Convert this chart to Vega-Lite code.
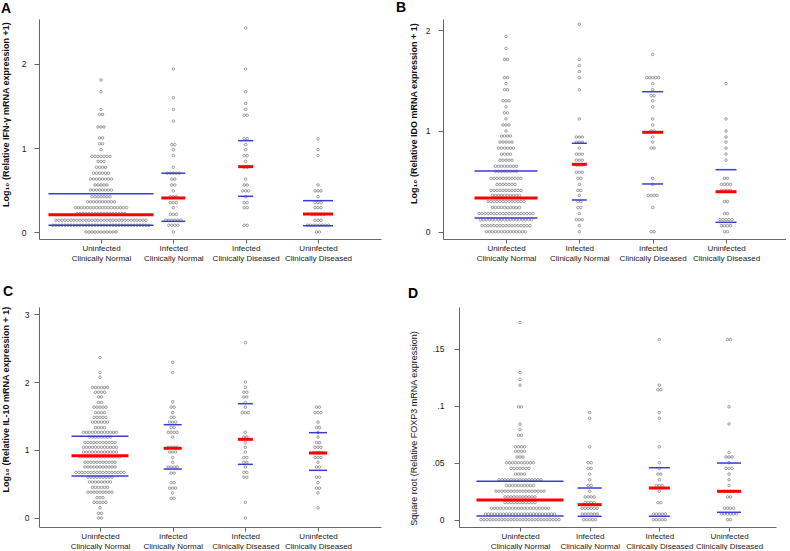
{
"$schema":"https://vega.github.io/schema/vega-lite/v6.json",
"background":"white",
"padding":{"left":0,"top":1,"right":0,"bottom":0},
"config":{"view":{"stroke":null},"font":"Liberation Sans",
"axis":{"grid":false,"domainColor":"#666","tickColor":"#666","labelColor":"#222","titleColor":"#111","labelFontSize":8.5,"titleFontSize":9,"titleFontWeight":"bold","labelFont":"Liberation Sans","titleFont":"Liberation Sans"},
"axisX":{"tickSize":4,"labelPadding":1,"labelLineHeight":10,"labelFontSize":8,"labelOverlap":false,"labelFlush":false,"title":null,"labelExpr":"datum.value == 1 ? ['Uninfected','Clinically Normal'] : datum.value == 2 ? ['Infected','Clinically Normal'] : datum.value == 3 ? ['Infected','Clinically Diseased'] : ['Uninfected','Clinically Diseased']"},
"axisY":{"tickSize":5,"labelPadding":8}},
"datasets":{
"A":[
{"g":1,"v":1.81},{"g":1,"v":1.67},{"g":1,"v":1.46},{"g":1,"v":1.4},{"g":1,"v":1.4},{"g":1,"v":1.25},{"g":1,"v":1.25},{"g":1,"v":1.25},{"g":1,"v":1.12},{"g":1,"v":1.12},{"g":1,"v":1.05},{"g":1,"v":1.05},{"g":1,"v":0.98},
{"g":1,"v":0.9},{"g":1,"v":0.9},{"g":1,"v":0.9},{"g":1,"v":0.9},{"g":1,"v":0.9},{"g":1,"v":0.9},{"g":1,"v":0.9},
{"g":1,"v":0.84},{"g":1,"v":0.84},{"g":1,"v":0.84},
{"g":1,"v":0.77},{"g":1,"v":0.77},{"g":1,"v":0.77},{"g":1,"v":0.77},
{"g":1,"v":0.7},{"g":1,"v":0.7},{"g":1,"v":0.7},{"g":1,"v":0.7},{"g":1,"v":0.7},{"g":1,"v":0.7},
{"g":1,"v":0.63},{"g":1,"v":0.63},{"g":1,"v":0.63},{"g":1,"v":0.63},{"g":1,"v":0.63},{"g":1,"v":0.63},{"g":1,"v":0.63},{"g":1,"v":0.63},
{"g":1,"v":0.56},{"g":1,"v":0.56},{"g":1,"v":0.56},{"g":1,"v":0.56},{"g":1,"v":0.56},
{"g":1,"v":0.5},{"g":1,"v":0.5},{"g":1,"v":0.5},{"g":1,"v":0.5},{"g":1,"v":0.5},{"g":1,"v":0.5},{"g":1,"v":0.5},{"g":1,"v":0.5},
{"g":1,"v":0.42},{"g":1,"v":0.42},{"g":1,"v":0.42},{"g":1,"v":0.42},{"g":1,"v":0.42},{"g":1,"v":0.42},{"g":1,"v":0.42},
{"g":1,"v":0.36},{"g":1,"v":0.36},{"g":1,"v":0.36},{"g":1,"v":0.36},{"g":1,"v":0.36},{"g":1,"v":0.36},{"g":1,"v":0.36},{"g":1,"v":0.36},{"g":1,"v":0.36},{"g":1,"v":0.36},
{"g":1,"v":0.29},{"g":1,"v":0.29},{"g":1,"v":0.29},{"g":1,"v":0.29},{"g":1,"v":0.29},{"g":1,"v":0.29},{"g":1,"v":0.29},{"g":1,"v":0.29},{"g":1,"v":0.29},{"g":1,"v":0.29},{"g":1,"v":0.29},{"g":1,"v":0.29},{"g":1,"v":0.29},{"g":1,"v":0.29},{"g":1,"v":0.29},{"g":1,"v":0.29},{"g":1,"v":0.29},{"g":1,"v":0.29},
{"g":1,"v":0.22},{"g":1,"v":0.22},{"g":1,"v":0.22},{"g":1,"v":0.22},{"g":1,"v":0.22},{"g":1,"v":0.22},{"g":1,"v":0.22},{"g":1,"v":0.22},{"g":1,"v":0.22},{"g":1,"v":0.22},{"g":1,"v":0.22},{"g":1,"v":0.22},{"g":1,"v":0.22},{"g":1,"v":0.22},{"g":1,"v":0.22},{"g":1,"v":0.22},{"g":1,"v":0.22},
{"g":1,"v":0.14},{"g":1,"v":0.14},{"g":1,"v":0.14},{"g":1,"v":0.14},{"g":1,"v":0.14},{"g":1,"v":0.14},{"g":1,"v":0.14},{"g":1,"v":0.14},{"g":1,"v":0.14},{"g":1,"v":0.14},{"g":1,"v":0.14},{"g":1,"v":0.14},{"g":1,"v":0.14},{"g":1,"v":0.14},{"g":1,"v":0.14},{"g":1,"v":0.14},{"g":1,"v":0.14},{"g":1,"v":0.14},{"g":1,"v":0.14},{"g":1,"v":0.14},{"g":1,"v":0.14},{"g":1,"v":0.14},{"g":1,"v":0.14},{"g":1,"v":0.14},{"g":1,"v":0.14},{"g":1,"v":0.14},{"g":1,"v":0.14},{"g":1,"v":0.14},{"g":1,"v":0.14},{"g":1,"v":0.14},{"g":1,"v":0.14},
{"g":1,"v":0.08},{"g":1,"v":0.08},{"g":1,"v":0.08},{"g":1,"v":0.08},{"g":1,"v":0.08},{"g":1,"v":0.08},{"g":1,"v":0.08},{"g":1,"v":0.08},{"g":1,"v":0.08},{"g":1,"v":0.08},{"g":1,"v":0.08},{"g":1,"v":0.08},{"g":1,"v":0.08},{"g":1,"v":0.08},{"g":1,"v":0.08},{"g":1,"v":0.08},{"g":1,"v":0.08},{"g":1,"v":0.08},{"g":1,"v":0.08},{"g":1,"v":0.08},{"g":1,"v":0.08},{"g":1,"v":0.08},{"g":1,"v":0.08},{"g":1,"v":0.08},{"g":1,"v":0.08},{"g":1,"v":0.08},{"g":1,"v":0.08},{"g":1,"v":0.08},{"g":1,"v":0.08},{"g":1,"v":0.08},{"g":1,"v":0.08},{"g":1,"v":0.08},{"g":1,"v":0.08},
{"g":1,"v":0},{"g":1,"v":0},{"g":1,"v":0},{"g":1,"v":0},{"g":1,"v":0},{"g":1,"v":0},{"g":1,"v":0},{"g":1,"v":0},{"g":1,"v":0},{"g":1,"v":0},{"g":1,"v":0},
{"g":2,"v":1.94},{"g":2,"v":1.6},{"g":2,"v":1.46},{"g":2,"v":1.32},{"g":2,"v":1.04},{"g":2,"v":1.04},{"g":2,"v":0.98},{"g":2,"v":0.91},{"g":2,"v":0.77},
{"g":2,"v":0.7},{"g":2,"v":0.7},{"g":2,"v":0.7},{"g":2,"v":0.7},{"g":2,"v":0.7},{"g":2,"v":0.63},{"g":2,"v":0.63},{"g":2,"v":0.56},{"g":2,"v":0.56},{"g":2,"v":0.49},
{"g":2,"v":0.42},{"g":2,"v":0.42},{"g":2,"v":0.42},{"g":2,"v":0.35},{"g":2,"v":0.35},{"g":2,"v":0.35},{"g":2,"v":0.29},{"g":2,"v":0.21},{"g":2,"v":0.21},{"g":2,"v":0.21},
{"g":2,"v":0.14},{"g":2,"v":0.14},{"g":2,"v":0.14},{"g":2,"v":0.14},{"g":2,"v":0.14},{"g":2,"v":0.14},{"g":2,"v":0.08},{"g":2,"v":0.08},{"g":2,"v":0.08},{"g":2,"v":0.08},{"g":2,"v":0},
{"g":3,"v":2.43},{"g":3,"v":1.94},{"g":3,"v":1.67},{"g":3,"v":1.53},{"g":3,"v":1.46},{"g":3,"v":1.39},{"g":3,"v":1.39},{"g":3,"v":1.11},{"g":3,"v":1.11},{"g":3,"v":1.04},{"g":3,"v":0.98},{"g":3,"v":0.91},{"g":3,"v":0.91},{"g":3,"v":0.84},{"g":3,"v":0.77},{"g":3,"v":0.77},{"g":3,"v":0.63},{"g":3,"v":0.56},{"g":3,"v":0.56},{"g":3,"v":0.49},{"g":3,"v":0.49},{"g":3,"v":0.49},{"g":3,"v":0.42},{"g":3,"v":0.35},{"g":3,"v":0.35},{"g":3,"v":0.29},{"g":3,"v":0.29},{"g":3,"v":0.08},{"g":3,"v":0.08},
{"g":4,"v":1.11},{"g":4,"v":0.98},{"g":4,"v":0.91},{"g":4,"v":0.56},{"g":4,"v":0.49},{"g":4,"v":0.49},{"g":4,"v":0.49},{"g":4,"v":0.42},{"g":4,"v":0.35},{"g":4,"v":0.35},{"g":4,"v":0.35},{"g":4,"v":0.29},{"g":4,"v":0.29},{"g":4,"v":0.29},
{"g":4,"v":0.21},{"g":4,"v":0.21},{"g":4,"v":0.21},{"g":4,"v":0.21},{"g":4,"v":0.21},{"g":4,"v":0.14},{"g":4,"v":0.14},{"g":4,"v":0.14},{"g":4,"v":0.08},{"g":4,"v":0.08},{"g":4,"v":0.08},{"g":4,"v":0.08},{"g":4,"v":0.08},{"g":4,"v":0.08},{"g":4,"v":0.08},{"g":4,"v":0.08},{"g":4,"v":0},{"g":4,"v":0},
{"g":1,"v":0.456,"s":"q"},{"g":1,"v":0.206,"s":"m"},{"g":1,"v":0.08,"s":"q"},
{"g":2,"v":0.7,"s":"q"},{"g":2,"v":0.405,"s":"m"},{"g":2,"v":0.127,"s":"q"},
{"g":3,"v":1.087,"s":"q"},{"g":3,"v":0.778,"s":"m"},{"g":3,"v":0.425,"s":"q"},
{"g":4,"v":0.373,"s":"q"},{"g":4,"v":0.214,"s":"m"},{"g":4,"v":0.075,"s":"q"}
],
"B":[
{"g":1,"v":1.94},{"g":1,"v":1.82},{"g":1,"v":1.71},{"g":1,"v":1.71},{"g":1,"v":1.53},{"g":1,"v":1.53},{"g":1,"v":1.47},{"g":1,"v":1.41},{"g":1,"v":1.41},{"g":1,"v":1.3},{"g":1,"v":1.3},{"g":1,"v":1.3},{"g":1,"v":1.24},{"g":1,"v":1.18},{"g":1,"v":1.18},{"g":1,"v":1.12},{"g":1,"v":1.06},{"g":1,"v":1.06},{"g":1,"v":1.06},{"g":1,"v":1.0},
{"g":1,"v":0.95},{"g":1,"v":0.95},{"g":1,"v":0.95},{"g":1,"v":0.95},
{"g":1,"v":0.89},{"g":1,"v":0.89},{"g":1,"v":0.89},{"g":1,"v":0.89},{"g":1,"v":0.89},
{"g":1,"v":0.83},{"g":1,"v":0.83},{"g":1,"v":0.83},{"g":1,"v":0.83},{"g":1,"v":0.83},{"g":1,"v":0.83},
{"g":1,"v":0.77},{"g":1,"v":0.77},{"g":1,"v":0.77},{"g":1,"v":0.77},
{"g":1,"v":0.71},{"g":1,"v":0.71},{"g":1,"v":0.71},{"g":1,"v":0.71},{"g":1,"v":0.71},
{"g":1,"v":0.65},{"g":1,"v":0.65},{"g":1,"v":0.65},{"g":1,"v":0.65},{"g":1,"v":0.65},{"g":1,"v":0.65},{"g":1,"v":0.65},{"g":1,"v":0.65},
{"g":1,"v":0.6},{"g":1,"v":0.6},{"g":1,"v":0.6},{"g":1,"v":0.6},{"g":1,"v":0.6},{"g":1,"v":0.6},{"g":1,"v":0.6},{"g":1,"v":0.6},
{"g":1,"v":0.53},{"g":1,"v":0.53},{"g":1,"v":0.53},{"g":1,"v":0.53},{"g":1,"v":0.53},{"g":1,"v":0.53},{"g":1,"v":0.53},{"g":1,"v":0.53},{"g":1,"v":0.53},{"g":1,"v":0.53},{"g":1,"v":0.53},
{"g":1,"v":0.47},{"g":1,"v":0.47},{"g":1,"v":0.47},{"g":1,"v":0.47},{"g":1,"v":0.47},{"g":1,"v":0.47},{"g":1,"v":0.47},
{"g":1,"v":0.41},{"g":1,"v":0.41},{"g":1,"v":0.41},{"g":1,"v":0.41},{"g":1,"v":0.41},{"g":1,"v":0.41},{"g":1,"v":0.41},{"g":1,"v":0.41},{"g":1,"v":0.41},{"g":1,"v":0.41},{"g":1,"v":0.41},
{"g":1,"v":0.36},{"g":1,"v":0.36},{"g":1,"v":0.36},{"g":1,"v":0.36},{"g":1,"v":0.36},{"g":1,"v":0.36},{"g":1,"v":0.36},{"g":1,"v":0.36},{"g":1,"v":0.36},{"g":1,"v":0.36},
{"g":1,"v":0.3},{"g":1,"v":0.3},{"g":1,"v":0.3},{"g":1,"v":0.3},{"g":1,"v":0.3},{"g":1,"v":0.3},{"g":1,"v":0.3},{"g":1,"v":0.3},{"g":1,"v":0.3},{"g":1,"v":0.3},{"g":1,"v":0.3},{"g":1,"v":0.3},{"g":1,"v":0.3},
{"g":1,"v":0.24},{"g":1,"v":0.24},{"g":1,"v":0.24},{"g":1,"v":0.24},{"g":1,"v":0.24},{"g":1,"v":0.24},{"g":1,"v":0.24},{"g":1,"v":0.24},{"g":1,"v":0.24},{"g":1,"v":0.24},
{"g":1,"v":0.18},{"g":1,"v":0.18},{"g":1,"v":0.18},{"g":1,"v":0.18},{"g":1,"v":0.18},{"g":1,"v":0.18},{"g":1,"v":0.18},{"g":1,"v":0.18},{"g":1,"v":0.18},{"g":1,"v":0.18},{"g":1,"v":0.18},{"g":1,"v":0.18},{"g":1,"v":0.18},{"g":1,"v":0.18},{"g":1,"v":0.18},{"g":1,"v":0.18},{"g":1,"v":0.18},{"g":1,"v":0.18},{"g":1,"v":0.18},
{"g":1,"v":0.12},{"g":1,"v":0.12},{"g":1,"v":0.12},{"g":1,"v":0.12},{"g":1,"v":0.12},{"g":1,"v":0.12},{"g":1,"v":0.12},{"g":1,"v":0.12},{"g":1,"v":0.12},{"g":1,"v":0.12},{"g":1,"v":0.12},{"g":1,"v":0.12},{"g":1,"v":0.12},{"g":1,"v":0.12},{"g":1,"v":0.12},{"g":1,"v":0.12},{"g":1,"v":0.12},{"g":1,"v":0.12},
{"g":1,"v":0.06},{"g":1,"v":0.06},{"g":1,"v":0.06},{"g":1,"v":0.06},{"g":1,"v":0.06},{"g":1,"v":0.06},{"g":1,"v":0.06},{"g":1,"v":0.06},{"g":1,"v":0.06},{"g":1,"v":0.06},{"g":1,"v":0.06},{"g":1,"v":0.06},{"g":1,"v":0.06},{"g":1,"v":0.06},{"g":1,"v":0.06},{"g":1,"v":0.06},{"g":1,"v":0.06},
{"g":1,"v":0},{"g":1,"v":0},{"g":1,"v":0},{"g":1,"v":0},{"g":1,"v":0},{"g":1,"v":0},{"g":1,"v":0},{"g":1,"v":0},{"g":1,"v":0},{"g":1,"v":0},{"g":1,"v":0},{"g":1,"v":0},{"g":1,"v":0},{"g":1,"v":0},
{"g":2,"v":2.06},{"g":2,"v":1.71},{"g":2,"v":1.65},{"g":2,"v":1.59},{"g":2,"v":1.53},{"g":2,"v":1.41},{"g":2,"v":1.12},{"g":2,"v":0.94},{"g":2,"v":0.94},{"g":2,"v":0.94},{"g":2,"v":0.89},{"g":2,"v":0.89},{"g":2,"v":0.89},{"g":2,"v":0.83},{"g":2,"v":0.77},{"g":2,"v":0.77},{"g":2,"v":0.77},{"g":2,"v":0.71},{"g":2,"v":0.71},{"g":2,"v":0.71},{"g":2,"v":0.66},{"g":2,"v":0.66},{"g":2,"v":0.66},{"g":2,"v":0.59},{"g":2,"v":0.59},{"g":2,"v":0.59},{"g":2,"v":0.53},{"g":2,"v":0.53},{"g":2,"v":0.47},{"g":2,"v":0.41},{"g":2,"v":0.41},{"g":2,"v":0.36},{"g":2,"v":0.3},{"g":2,"v":0.3},{"g":2,"v":0.24},{"g":2,"v":0.24},{"g":2,"v":0.18},{"g":2,"v":0.12},{"g":2,"v":0.12},{"g":2,"v":0.12},{"g":2,"v":0.06},{"g":2,"v":0},
{"g":3,"v":1.76},{"g":3,"v":1.53},{"g":3,"v":1.53},{"g":3,"v":1.53},{"g":3,"v":1.53},{"g":3,"v":1.53},{"g":3,"v":1.47},{"g":3,"v":1.41},{"g":3,"v":1.35},{"g":3,"v":1.35},{"g":3,"v":1.3},{"g":3,"v":1.24},{"g":3,"v":1.12},{"g":3,"v":1.06},{"g":3,"v":1.0},{"g":3,"v":1.0},{"g":3,"v":0.94},{"g":3,"v":0.89},{"g":3,"v":0.83},{"g":3,"v":0.83},{"g":3,"v":0.53},{"g":3,"v":0.47},{"g":3,"v":0.36},{"g":3,"v":0.36},{"g":3,"v":0.36},{"g":3,"v":0.36},{"g":3,"v":0.24},{"g":3,"v":0},{"g":3,"v":0},
{"g":4,"v":1.47},{"g":4,"v":1.12},{"g":4,"v":1.0},{"g":4,"v":0.94},{"g":4,"v":0.89},{"g":4,"v":0.83},{"g":4,"v":0.77},{"g":4,"v":0.71},{"g":4,"v":0.53},{"g":4,"v":0.53},{"g":4,"v":0.47},{"g":4,"v":0.47},{"g":4,"v":0.47},{"g":4,"v":0.47},{"g":4,"v":0.41},{"g":4,"v":0.41},{"g":4,"v":0.41},{"g":4,"v":0.41},{"g":4,"v":0.3},{"g":4,"v":0.3},{"g":4,"v":0.18},{"g":4,"v":0.18},{"g":4,"v":0.12},{"g":4,"v":0.12},{"g":4,"v":0.12},{"g":4,"v":0.12},{"g":4,"v":0.12},{"g":4,"v":0.06},{"g":4,"v":0.06},{"g":4,"v":0.06},{"g":4,"v":0.06},{"g":4,"v":0},{"g":4,"v":0},
{"g":1,"v":0.603,"s":"q"},{"g":1,"v":0.335,"s":"m"},{"g":1,"v":0.136,"s":"q"},
{"g":2,"v":0.878,"s":"q"},{"g":2,"v":0.669,"s":"m"},{"g":2,"v":0.315,"s":"q"},
{"g":3,"v":1.39,"s":"q"},{"g":3,"v":0.987,"s":"m"},{"g":3,"v":0.474,"s":"q"},
{"g":4,"v":0.616,"s":"q"},{"g":4,"v":0.397,"s":"m"},{"g":4,"v":0.093,"s":"q"}
],
"C":[
{"g":1,"v":2.36},{"g":1,"v":2.14},{"g":1,"v":2.07},
{"g":1,"v":1.92},{"g":1,"v":1.92},{"g":1,"v":1.92},{"g":1,"v":1.92},{"g":1,"v":1.92},{"g":1,"v":1.92},
{"g":1,"v":1.85},{"g":1,"v":1.85},{"g":1,"v":1.85},{"g":1,"v":1.85},
{"g":1,"v":1.78},{"g":1,"v":1.78},{"g":1,"v":1.7},{"g":1,"v":1.7},
{"g":1,"v":1.63},{"g":1,"v":1.63},{"g":1,"v":1.63},{"g":1,"v":1.63},{"g":1,"v":1.63},
{"g":1,"v":1.55},{"g":1,"v":1.55},{"g":1,"v":1.55},{"g":1,"v":1.55},
{"g":1,"v":1.48},{"g":1,"v":1.48},{"g":1,"v":1.48},{"g":1,"v":1.48},{"g":1,"v":1.48},
{"g":1,"v":1.41},{"g":1,"v":1.41},{"g":1,"v":1.41},{"g":1,"v":1.41},{"g":1,"v":1.41},{"g":1,"v":1.41},
{"g":1,"v":1.33},{"g":1,"v":1.33},{"g":1,"v":1.33},{"g":1,"v":1.33},
{"g":1,"v":1.26},{"g":1,"v":1.26},{"g":1,"v":1.26},{"g":1,"v":1.26},{"g":1,"v":1.26},{"g":1,"v":1.26},{"g":1,"v":1.26},{"g":1,"v":1.26},{"g":1,"v":1.26},{"g":1,"v":1.26},{"g":1,"v":1.26},{"g":1,"v":1.26},
{"g":1,"v":1.19},{"g":1,"v":1.19},{"g":1,"v":1.19},{"g":1,"v":1.19},{"g":1,"v":1.19},{"g":1,"v":1.19},{"g":1,"v":1.19},{"g":1,"v":1.19},
{"g":1,"v":1.11},{"g":1,"v":1.11},{"g":1,"v":1.11},{"g":1,"v":1.11},{"g":1,"v":1.11},{"g":1,"v":1.11},{"g":1,"v":1.11},{"g":1,"v":1.11},{"g":1,"v":1.11},{"g":1,"v":1.11},{"g":1,"v":1.11},
{"g":1,"v":1.04},{"g":1,"v":1.04},{"g":1,"v":1.04},{"g":1,"v":1.04},{"g":1,"v":1.04},{"g":1,"v":1.04},{"g":1,"v":1.04},{"g":1,"v":1.04},{"g":1,"v":1.04},{"g":1,"v":1.04},{"g":1,"v":1.04},{"g":1,"v":1.04},
{"g":1,"v":0.97},{"g":1,"v":0.97},{"g":1,"v":0.97},{"g":1,"v":0.97},{"g":1,"v":0.97},{"g":1,"v":0.97},{"g":1,"v":0.97},{"g":1,"v":0.97},{"g":1,"v":0.97},{"g":1,"v":0.97},{"g":1,"v":0.97},{"g":1,"v":0.97},
{"g":1,"v":0.9},{"g":1,"v":0.9},{"g":1,"v":0.9},{"g":1,"v":0.9},{"g":1,"v":0.9},{"g":1,"v":0.9},{"g":1,"v":0.9},{"g":1,"v":0.9},{"g":1,"v":0.9},{"g":1,"v":0.9},{"g":1,"v":0.9},{"g":1,"v":0.9},{"g":1,"v":0.9},{"g":1,"v":0.9},
{"g":1,"v":0.82},{"g":1,"v":0.82},{"g":1,"v":0.82},{"g":1,"v":0.82},{"g":1,"v":0.82},{"g":1,"v":0.82},{"g":1,"v":0.82},{"g":1,"v":0.82},{"g":1,"v":0.82},{"g":1,"v":0.82},{"g":1,"v":0.82},
{"g":1,"v":0.75},{"g":1,"v":0.75},{"g":1,"v":0.75},{"g":1,"v":0.75},{"g":1,"v":0.75},{"g":1,"v":0.75},{"g":1,"v":0.75},{"g":1,"v":0.75},{"g":1,"v":0.75},{"g":1,"v":0.75},{"g":1,"v":0.75},
{"g":1,"v":0.67},{"g":1,"v":0.67},{"g":1,"v":0.67},{"g":1,"v":0.67},{"g":1,"v":0.67},{"g":1,"v":0.67},{"g":1,"v":0.67},{"g":1,"v":0.67},{"g":1,"v":0.67},{"g":1,"v":0.67},{"g":1,"v":0.67},{"g":1,"v":0.67},{"g":1,"v":0.67},{"g":1,"v":0.67},{"g":1,"v":0.67},{"g":1,"v":0.67},{"g":1,"v":0.67},
{"g":1,"v":0.6},{"g":1,"v":0.6},{"g":1,"v":0.6},{"g":1,"v":0.6},{"g":1,"v":0.6},{"g":1,"v":0.6},{"g":1,"v":0.6},{"g":1,"v":0.6},{"g":1,"v":0.6},
{"g":1,"v":0.53},{"g":1,"v":0.53},{"g":1,"v":0.53},{"g":1,"v":0.53},{"g":1,"v":0.53},{"g":1,"v":0.53},{"g":1,"v":0.53},{"g":1,"v":0.53},
{"g":1,"v":0.45},{"g":1,"v":0.45},{"g":1,"v":0.45},{"g":1,"v":0.45},{"g":1,"v":0.45},{"g":1,"v":0.45},
{"g":1,"v":0.38},{"g":1,"v":0.38},{"g":1,"v":0.38},{"g":1,"v":0.38},{"g":1,"v":0.38},{"g":1,"v":0.38},{"g":1,"v":0.38},{"g":1,"v":0.38},{"g":1,"v":0.38},
{"g":1,"v":0.3},{"g":1,"v":0.3},{"g":1,"v":0.3},
{"g":1,"v":0.23},{"g":1,"v":0.23},{"g":1,"v":0.23},{"g":1,"v":0.23},{"g":1,"v":0.23},
{"g":1,"v":0.15},{"g":1,"v":0.07},{"g":1,"v":0.07},{"g":1,"v":0},{"g":1,"v":0},
{"g":2,"v":2.29},{"g":2,"v":2.14},{"g":2,"v":1.71},{"g":2,"v":1.63},{"g":2,"v":1.63},{"g":2,"v":1.55},{"g":2,"v":1.48},{"g":2,"v":1.48},{"g":2,"v":1.41},{"g":2,"v":1.41},{"g":2,"v":1.41},{"g":2,"v":1.33},{"g":2,"v":1.33},{"g":2,"v":1.26},{"g":2,"v":1.26},{"g":2,"v":1.26},{"g":2,"v":1.26},{"g":2,"v":1.19},{"g":2,"v":1.04},{"g":2,"v":1.04},{"g":2,"v":1.04},{"g":2,"v":1.04},{"g":2,"v":0.97},{"g":2,"v":0.97},{"g":2,"v":0.97},{"g":2,"v":0.89},{"g":2,"v":0.82},{"g":2,"v":0.75},{"g":2,"v":0.75},{"g":2,"v":0.75},{"g":2,"v":0.75},{"g":2,"v":0.66},{"g":2,"v":0.66},{"g":2,"v":0.52},{"g":2,"v":0.52},{"g":2,"v":0.44},{"g":2,"v":0.44},{"g":2,"v":0.44},{"g":2,"v":0.37},{"g":2,"v":0.29},{"g":2,"v":0.29},
{"g":3,"v":2.58},{"g":3,"v":2.0},{"g":3,"v":1.92},{"g":3,"v":1.85},{"g":3,"v":1.85},{"g":3,"v":1.78},{"g":3,"v":1.78},{"g":3,"v":1.7},{"g":3,"v":1.63},{"g":3,"v":1.55},{"g":3,"v":1.55},{"g":3,"v":1.55},{"g":3,"v":1.26},{"g":3,"v":1.19},{"g":3,"v":1.19},{"g":3,"v":1.11},{"g":3,"v":1.04},{"g":3,"v":0.97},{"g":3,"v":0.89},{"g":3,"v":0.89},{"g":3,"v":0.82},{"g":3,"v":0.82},{"g":3,"v":0.75},{"g":3,"v":0.67},{"g":3,"v":0.67},{"g":3,"v":0.6},{"g":3,"v":0.6},{"g":3,"v":0.23},{"g":3,"v":0},
{"g":4,"v":1.63},{"g":4,"v":1.63},{"g":4,"v":1.55},{"g":4,"v":1.55},{"g":4,"v":1.55},{"g":4,"v":1.41},{"g":4,"v":1.33},{"g":4,"v":1.33},{"g":4,"v":1.26},{"g":4,"v":1.19},{"g":4,"v":1.11},{"g":4,"v":1.11},{"g":4,"v":1.04},{"g":4,"v":1.04},{"g":4,"v":1.04},{"g":4,"v":0.96},{"g":4,"v":0.96},{"g":4,"v":0.96},{"g":4,"v":0.96},{"g":4,"v":0.89},{"g":4,"v":0.89},{"g":4,"v":0.89},{"g":4,"v":0.82},{"g":4,"v":0.75},{"g":4,"v":0.75},{"g":4,"v":0.6},{"g":4,"v":0.6},{"g":4,"v":0.52},{"g":4,"v":0.44},{"g":4,"v":0.44},{"g":4,"v":0.37},{"g":4,"v":0.15},
{"g":1,"v":1.201,"s":"q"},{"g":1,"v":0.917,"s":"m"},{"g":1,"v":0.618,"s":"q"},
{"g":2,"v":1.372,"s":"q"},{"g":2,"v":1.025,"s":"m"},{"g":2,"v":0.72,"s":"q"},
{"g":3,"v":1.681,"s":"q"},{"g":3,"v":1.157,"s":"m"},{"g":3,"v":0.789,"s":"q"},
{"g":4,"v":1.255,"s":"q"},{"g":4,"v":0.956,"s":"m"},{"g":4,"v":0.701,"s":"q"}
],
"D":[
{"g":1,"v":0.173},{"g":1,"v":0.129},{"g":1,"v":0.123},{"g":1,"v":0.118},{"g":1,"v":0.099},{"g":1,"v":0.099},{"g":1,"v":0.084},{"g":1,"v":0.079},{"g":1,"v":0.074},{"g":1,"v":0.074},
{"g":1,"v":0.064},{"g":1,"v":0.064},{"g":1,"v":0.064},{"g":1,"v":0.064},{"g":1,"v":0.06},{"g":1,"v":0.06},{"g":1,"v":0.06},{"g":1,"v":0.06},{"g":1,"v":0.055},{"g":1,"v":0.055},{"g":1,"v":0.055},
{"g":1,"v":0.05},{"g":1,"v":0.05},{"g":1,"v":0.05},{"g":1,"v":0.05},{"g":1,"v":0.05},{"g":1,"v":0.05},{"g":1,"v":0.05},{"g":1,"v":0.05},{"g":1,"v":0.05},{"g":1,"v":0.05},
{"g":1,"v":0.045},{"g":1,"v":0.045},{"g":1,"v":0.045},{"g":1,"v":0.045},{"g":1,"v":0.045},{"g":1,"v":0.045},{"g":1,"v":0.045},
{"g":1,"v":0.04},{"g":1,"v":0.04},{"g":1,"v":0.04},{"g":1,"v":0.04},
{"g":1,"v":0.035},{"g":1,"v":0.035},{"g":1,"v":0.035},{"g":1,"v":0.035},{"g":1,"v":0.035},{"g":1,"v":0.035},{"g":1,"v":0.035},{"g":1,"v":0.035},{"g":1,"v":0.035},{"g":1,"v":0.035},{"g":1,"v":0.035},{"g":1,"v":0.035},{"g":1,"v":0.035},{"g":1,"v":0.035},{"g":1,"v":0.035},
{"g":1,"v":0.03},{"g":1,"v":0.03},{"g":1,"v":0.03},{"g":1,"v":0.03},{"g":1,"v":0.03},{"g":1,"v":0.03},{"g":1,"v":0.03},{"g":1,"v":0.03},{"g":1,"v":0.03},{"g":1,"v":0.03},
{"g":1,"v":0.025},{"g":1,"v":0.025},{"g":1,"v":0.025},{"g":1,"v":0.025},{"g":1,"v":0.025},{"g":1,"v":0.025},{"g":1,"v":0.025},{"g":1,"v":0.025},{"g":1,"v":0.025},{"g":1,"v":0.025},{"g":1,"v":0.025},{"g":1,"v":0.025},{"g":1,"v":0.025},{"g":1,"v":0.025},{"g":1,"v":0.025},{"g":1,"v":0.025},{"g":1,"v":0.025},
{"g":1,"v":0.02},{"g":1,"v":0.02},{"g":1,"v":0.02},{"g":1,"v":0.02},{"g":1,"v":0.02},{"g":1,"v":0.02},{"g":1,"v":0.02},{"g":1,"v":0.02},{"g":1,"v":0.02},{"g":1,"v":0.02},{"g":1,"v":0.02},
{"g":1,"v":0.015},{"g":1,"v":0.015},{"g":1,"v":0.015},{"g":1,"v":0.015},{"g":1,"v":0.015},{"g":1,"v":0.015},{"g":1,"v":0.015},{"g":1,"v":0.015},{"g":1,"v":0.015},{"g":1,"v":0.015},{"g":1,"v":0.015},
{"g":1,"v":0.01},{"g":1,"v":0.01},{"g":1,"v":0.01},{"g":1,"v":0.01},{"g":1,"v":0.01},{"g":1,"v":0.01},{"g":1,"v":0.01},{"g":1,"v":0.01},{"g":1,"v":0.01},{"g":1,"v":0.01},{"g":1,"v":0.01},{"g":1,"v":0.01},{"g":1,"v":0.01},{"g":1,"v":0.01},{"g":1,"v":0.01},{"g":1,"v":0.01},{"g":1,"v":0.01},{"g":1,"v":0.01},{"g":1,"v":0.01},{"g":1,"v":0.01},
{"g":1,"v":0.005},{"g":1,"v":0.005},{"g":1,"v":0.005},{"g":1,"v":0.005},{"g":1,"v":0.005},{"g":1,"v":0.005},{"g":1,"v":0.005},{"g":1,"v":0.005},{"g":1,"v":0.005},{"g":1,"v":0.005},{"g":1,"v":0.005},{"g":1,"v":0.005},{"g":1,"v":0.005},{"g":1,"v":0.005},{"g":1,"v":0.005},{"g":1,"v":0.005},{"g":1,"v":0.005},{"g":1,"v":0.005},{"g":1,"v":0.005},{"g":1,"v":0.005},{"g":1,"v":0.005},{"g":1,"v":0.005},{"g":1,"v":0.005},{"g":1,"v":0.005},
{"g":1,"v":0},{"g":1,"v":0},{"g":1,"v":0},{"g":1,"v":0},{"g":1,"v":0},{"g":1,"v":0},{"g":1,"v":0},{"g":1,"v":0},{"g":1,"v":0},{"g":1,"v":0},{"g":1,"v":0},{"g":1,"v":0},{"g":1,"v":0},{"g":1,"v":0},{"g":1,"v":0},{"g":1,"v":0},{"g":1,"v":0},{"g":1,"v":0},{"g":1,"v":0},{"g":1,"v":0},{"g":1,"v":0},{"g":1,"v":0},{"g":1,"v":0},{"g":1,"v":0},{"g":1,"v":0},{"g":1,"v":0},{"g":1,"v":0},
{"g":2,"v":0.094},{"g":2,"v":0.089},{"g":2,"v":0.064},{"g":2,"v":0.05},{"g":2,"v":0.05},{"g":2,"v":0.045},{"g":2,"v":0.045},{"g":2,"v":0.04},{"g":2,"v":0.035},{"g":2,"v":0.03},{"g":2,"v":0.03},{"g":2,"v":0.025},{"g":2,"v":0.02},{"g":2,"v":0.02},{"g":2,"v":0.02},{"g":2,"v":0.02},{"g":2,"v":0.015},{"g":2,"v":0.015},{"g":2,"v":0.015},{"g":2,"v":0.015},{"g":2,"v":0.01},{"g":2,"v":0.01},{"g":2,"v":0.01},{"g":2,"v":0.01},{"g":2,"v":0.01},{"g":2,"v":0.01},{"g":2,"v":0.005},{"g":2,"v":0.005},{"g":2,"v":0.005},{"g":2,"v":0.005},{"g":2,"v":0.005},{"g":2,"v":0.005},{"g":2,"v":0},{"g":2,"v":0},{"g":2,"v":0},{"g":2,"v":0},{"g":2,"v":0},
{"g":3,"v":0.158},{"g":3,"v":0.118},{"g":3,"v":0.114},{"g":3,"v":0.114},{"g":3,"v":0.094},{"g":3,"v":0.089},{"g":3,"v":0.064},{"g":3,"v":0.05},{"g":3,"v":0.045},{"g":3,"v":0.04},{"g":3,"v":0.04},{"g":3,"v":0.035},{"g":3,"v":0.03},{"g":3,"v":0.03},{"g":3,"v":0.03},{"g":3,"v":0.025},{"g":3,"v":0.015},{"g":3,"v":0.015},{"g":3,"v":0.005},{"g":3,"v":0.005},{"g":3,"v":0.005},{"g":3,"v":0.005},{"g":3,"v":0.005},{"g":3,"v":0},{"g":3,"v":0},{"g":3,"v":0},{"g":3,"v":0},{"g":3,"v":0},
{"g":4,"v":0.158},{"g":4,"v":0.158},{"g":4,"v":0.099},{"g":4,"v":0.084},{"g":4,"v":0.059},{"g":4,"v":0.055},{"g":4,"v":0.055},{"g":4,"v":0.055},{"g":4,"v":0.05},{"g":4,"v":0.045},{"g":4,"v":0.045},{"g":4,"v":0.045},{"g":4,"v":0.04},{"g":4,"v":0.035},{"g":4,"v":0.03},{"g":4,"v":0.025},{"g":4,"v":0.025},{"g":4,"v":0.025},{"g":4,"v":0.025},{"g":4,"v":0.02},{"g":4,"v":0.02},{"g":4,"v":0.01},{"g":4,"v":0.01},{"g":4,"v":0.01},{"g":4,"v":0.01},{"g":4,"v":0.005},{"g":4,"v":0.005},{"g":4,"v":0.005},{"g":4,"v":0.005},{"g":4,"v":0.005},{"g":4,"v":0.005},{"g":4,"v":0},{"g":4,"v":0},
{"g":1,"v":0.0337,"s":"q"},{"g":1,"v":0.0173,"s":"m"},{"g":1,"v":0.0032,"s":"q"},
{"g":2,"v":0.0278,"s":"q"},{"g":2,"v":0.0132,"s":"m"},{"g":2,"v":0.003,"s":"q"},
{"g":3,"v":0.0456,"s":"q"},{"g":3,"v":0.0278,"s":"m"},{"g":3,"v":0.003,"s":"q"},
{"g":4,"v":0.0497,"s":"q"},{"g":4,"v":0.0249,"s":"m"},{"g":4,"v":0.0065,"s":"q"}
]},
"spacing":22,
"vconcat":[
{"spacing":62,"bounds":"flush","hconcat":[
{"data":{"name":"A"},"width":342,"height":220,
"title":{"text":"A","anchor":"start","frame":"group","dx":-38,"offset":-8,"fontSize":14,"fontWeight":"bold","baseline":"alphabetic","color":"#000"},
"transform":[{"window":[{"op":"row_number","as":"r"}],"groupby":["g","v","s"]},{"joinaggregate":[{"op":"count","as":"n"}],"groupby":["g","v","s"]},{"calculate":"datum.s ? 0 : datum.n","as":"nd"},{"joinaggregate":[{"op":"max","field":"nd","as":"mx"}],"groupby":["g"]}],
"encoding":{"x":{"field":"xx","type":"quantitative","scale":{"domain":[0.1428,4.871],"nice":false,"zero":false},"axis":{"values":[1,2,3,4]}},
"y":{"field":"v","type":"quantitative","scale":{"domain":[-0.0833,2.5357],"nice":false,"zero":false},"axis":{"values":[0,1,2],"title":"Log₁₀ (Relative IFN-γ mRNA expression +1)","titleX":-29,"titleY":95}}},
"layer":[
{"transform":[{"filter":"!datum.s"},{"calculate":"datum.g + (datum.r - (datum.n + 1) / 2) * 0.0415","as":"xx"}],
"mark":{"type":"point","shape":"circle","filled":false,"size":6.5,"strokeWidth":0.6,"color":"#222"}},
{"transform":[{"filter":"datum.s"},{"calculate":"datum.g - (datum.mx + 2) / 2 * 0.0415","as":"xx"},{"calculate":"datum.g + (datum.mx + 2) / 2 * 0.0415","as":"xe"}],
"mark":{"type":"rule"},
"encoding":{"x2":{"field":"xe"},"color":{"condition":{"test":"datum.s == 'm'","value":"#ff0000"},"value":"#3b3bd6"},"strokeWidth":{"condition":{"test":"datum.s == 'm'","value":3},"value":1.5}}}
]},
{"data":{"name":"B"},"width":343,"height":220,
"title":{"text":"B","anchor":"start","frame":"group","dx":-47,"offset":-7,"fontSize":14,"fontWeight":"bold","baseline":"alphabetic","color":"#000"},
"transform":[{"window":[{"op":"row_number","as":"r"}],"groupby":["g","v","s"]},{"joinaggregate":[{"op":"count","as":"n"}],"groupby":["g","v","s"]},{"calculate":"datum.s ? 0 : datum.n","as":"nd"},{"joinaggregate":[{"op":"max","field":"nd","as":"mx"}],"groupby":["g"]}],
"encoding":{"x":{"field":"xx","type":"quantitative","scale":{"domain":[0.1409,4.818],"nice":false,"zero":false},"axis":{"values":[1,2,3,4]}},
"y":{"field":"v","type":"quantitative","scale":{"domain":[-0.0725,2.112],"nice":false,"zero":false},"axis":{"values":[0,1,2],"title":"Log₁₀ (Relative IDO mRNA expression + 1)","titleX":-25,"titleY":94}}},
"layer":[
{"transform":[{"filter":"!datum.s"},{"calculate":"datum.g + (datum.r - (datum.n + 1) / 2) * 0.0409","as":"xx"}],
"mark":{"type":"point","shape":"circle","filled":false,"size":6.5,"strokeWidth":0.6,"color":"#222"}},
{"transform":[{"filter":"datum.s"},{"calculate":"datum.g - (datum.mx + 2) / 2 * 0.0409","as":"xx"},{"calculate":"datum.g + (datum.mx + 2) / 2 * 0.0409","as":"xe"}],
"mark":{"type":"rule"},
"encoding":{"x2":{"field":"xe"},"color":{"condition":{"test":"datum.s == 'm'","value":"#ff0000"},"value":"#3b3bd6"},"strokeWidth":{"condition":{"test":"datum.s == 'm'","value":3},"value":1.5}}}
]}
]},
{"spacing":78,"bounds":"flush","hconcat":[
{"data":{"name":"C"},"width":342,"height":220,
"title":{"text":"C","anchor":"start","frame":"group","dx":-36,"offset":-4,"fontSize":14,"fontWeight":"bold","baseline":"alphabetic","color":"#000"},
"transform":[{"window":[{"op":"row_number","as":"r"}],"groupby":["g","v","s"]},{"joinaggregate":[{"op":"count","as":"n"}],"groupby":["g","v","s"]},{"calculate":"datum.s ? 0 : datum.n","as":"nd"},{"joinaggregate":[{"op":"max","field":"nd","as":"mx"}],"groupby":["g"]}],
"encoding":{"x":{"field":"xx","type":"quantitative","scale":{"domain":[0.1606,4.867],"nice":false,"zero":false},"axis":{"values":[1,2,3,4]}},
"y":{"field":"v","type":"quantitative","scale":{"domain":[-0.1324,3.103],"nice":false,"zero":false},"axis":{"values":[0,1,2,3],"labelPadding":5,"title":"Log₁₀ (Relative IL-10 mRNA expression + 1)","titleX":-29,"titleY":92}}},
"layer":[
{"transform":[{"filter":"!datum.s"},{"calculate":"datum.g + (datum.r - (datum.n + 1) / 2) * 0.0413","as":"xx"}],
"mark":{"type":"point","shape":"circle","filled":false,"size":6.5,"strokeWidth":0.6,"color":"#222"}},
{"transform":[{"filter":"datum.s"},{"calculate":"datum.g - (datum.mx + 2) / 2 * 0.0413","as":"xx"},{"calculate":"datum.g + (datum.mx + 2) / 2 * 0.0413","as":"xe"}],
"mark":{"type":"rule"},
"encoding":{"x2":{"field":"xe"},"color":{"condition":{"test":"datum.s == 'm'","value":"#ff0000"},"value":"#3b3bd6"},"strokeWidth":{"condition":{"test":"datum.s == 'm'","value":3},"value":1.5}}}
]},
{"data":{"name":"D"},"width":317,"height":220,
"title":{"text":"D","anchor":"start","frame":"group","dx":-51,"offset":-5,"fontSize":14,"fontWeight":"bold","baseline":"alphabetic","color":"#000"},
"transform":[{"window":[{"op":"row_number","as":"r"}],"groupby":["g","v","s"]},{"joinaggregate":[{"op":"count","as":"n"}],"groupby":["g","v","s"]},{"calculate":"datum.s ? 0 : datum.n","as":"nd"},{"joinaggregate":[{"op":"max","field":"nd","as":"mx"}],"groupby":["g"]}],
"encoding":{"x":{"field":"xx","type":"quantitative","scale":{"domain":[0.1245,4.674],"nice":false,"zero":false},"axis":{"values":[1,2,3,4]}},
"y":{"field":"v","type":"quantitative","scale":{"domain":[-0.0064,0.18658],"nice":false,"zero":false},"axis":{"values":[0,0.05,0.1,0.15],"labelPadding":10,"labelExpr":"datum.value == 0 ? '0' : replace(format(datum.value, '.2~f'), '0.', '.')","title":"Square root  (Relative FOXP3 mRNA expression)","titleFontWeight":"normal","titleFontSize":9,"titleX":-41,"titleY":121}}},
"layer":[
{"transform":[{"filter":"!datum.s"},{"calculate":"datum.g + (datum.r - (datum.n + 1) / 2) * 0.0431","as":"xx"}],
"mark":{"type":"point","shape":"circle","filled":false,"size":6.5,"strokeWidth":0.6,"color":"#222"}},
{"transform":[{"filter":"datum.s"},{"calculate":"datum.g - (datum.mx + 2) / 2 * 0.0431","as":"xx"},{"calculate":"datum.g + (datum.mx + 2) / 2 * 0.0431","as":"xe"}],
"mark":{"type":"rule"},
"encoding":{"x2":{"field":"xe"},"color":{"condition":{"test":"datum.s == 'm'","value":"#ff0000"},"value":"#3b3bd6"},"strokeWidth":{"condition":{"test":"datum.s == 'm'","value":3},"value":1.5}}}
]}
]}
]
}
